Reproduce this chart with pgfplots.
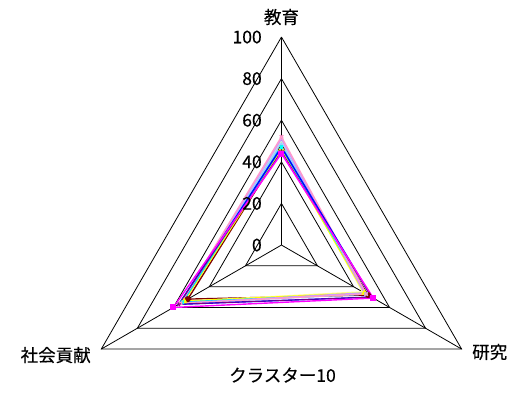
\documentclass[border=0pt]{standalone}
\usepackage{fontspec}
\setmainfont{Noto Sans CJK JP}[UprightFeatures={FakeBold=0.4}]
\usepackage{pgfplots}
\pgfplotsset{compat=1.18}

% Excel-style series colours
\definecolor{s2}{HTML}{FF00FF}
\definecolor{s3}{HTML}{FFFF00}
\definecolor{s4}{HTML}{00FFFF}
\definecolor{s5}{HTML}{800080}
\definecolor{s6}{HTML}{800000}
\definecolor{s8}{HTML}{0000FF}
\definecolor{s9}{HTML}{00CCFF}
\definecolor{s10}{HTML}{CCFFFF}
\definecolor{s11}{HTML}{CCFFCC}
\definecolor{s12}{HTML}{FFFF99}
\definecolor{s13}{HTML}{99CCFF}
\definecolor{s14}{HTML}{FF99CC}
\definecolor{s15}{HTML}{CC99FF}

\pgfplotsset{
  grid tri/.style={black, line width=0.8pt, no marks},
  ser/.style={line width=1.4pt, mark size=2.3pt, mark options={solid}},
}

\begin{document}
\begin{tikzpicture}
\fontsize{17.5}{20}\selectfont
\begin{axis}[
  x=2.08pt, y=2.08pt,
  xmin=-135.3, xmax=119.0, ymin=-71.6, ymax=117.8,
  hide axis, clip=false,
  data cs=polar,
]
% bounding box = whole picture
\path (rel axis cs:0,0) rectangle (rel axis cs:1,1);

% triangular grid (angle, radius)
\addplot[grid tri] coordinates {(90,20)(330,20)(210,20)(90,20)};
\addplot[grid tri] coordinates {(90,40)(330,40)(210,40)(90,40)};
\addplot[grid tri] coordinates {(90,60)(330,60)(210,60)(90,60)};
\addplot[grid tri] coordinates {(90,80)(330,80)(210,80)(90,80)};
\addplot[grid tri] coordinates {(90,100)(330,100)(210,100)(90,100)};
% spokes
\addplot[grid tri] coordinates {(90,0)(90,100)};
\addplot[grid tri] coordinates {(330,0)(330,100)};
\addplot[grid tri] coordinates {(210,0)(210,100)};

% series: (教育 at 90, 研究 at 330, 社会貢献 at 210)
\addplot[ser, s6, mark=*] coordinates {(90,46)(330,48)(210,52)(90,46)};
\addplot[ser, s12, mark=none] coordinates {(90,48)(330,45)(210,54)(90,48)};
\addplot[ser, s11, mark=none] coordinates {(90,50)(330,46)(210,55)(90,50)};
\addplot[ser, s10, mark=none] coordinates {(90,49)(330,46)(210,55)(90,49)};
\addplot[ser, s3, mark=triangle*] coordinates {(90,46)(330,46)(210,54)(90,46)};
\addplot[ser, s4, mark=x] coordinates {(90,47)(330,47)(210,55)(90,47)};
\addplot[ser, s9, mark=none] coordinates {(90,48)(330,47)(210,55)(90,48)};
\addplot[ser, s13, mark=none] coordinates {(90,49)(330,47)(210,56)(90,49)};
\addplot[ser, s15, mark=none] coordinates {(90,51)(330,46)(210,56)(90,51)};
\addplot[ser, s14, mark=x] coordinates {(90,52)(330,47)(210,56)(90,52)};
\addplot[ser, s8, mark=none] coordinates {(90,47)(330,50)(210,57)(90,47)};
\addplot[ser, s5, mark=star, line width=0.8pt] coordinates {(90,45)(330,50)(210,57)(90,45)};
\addplot[ser, s2, mark=square*] coordinates {(90,44)(330,51)(210,60)(90,44)};

% radial tick labels
\foreach \r in {0,20,40,60,80,100}
  {\edef\tmp{\noexpand\node[anchor=east, inner sep=0pt] at (axis cs:-9.4,\r) {\r};}\tmp}

% category labels and title
\node at (axis cs:0,109.6) {教育};
\node[anchor=east, inner sep=0pt] at (axis cs:-91.6,-52.9) {社会貢献};
\node[anchor=west, inner sep=0pt] at (axis cs:91.6,-51.4) {研究};
\node at (axis cs:0.5,-62.5) {クラスター10};
\end{axis}
\end{tikzpicture}
\end{document}
